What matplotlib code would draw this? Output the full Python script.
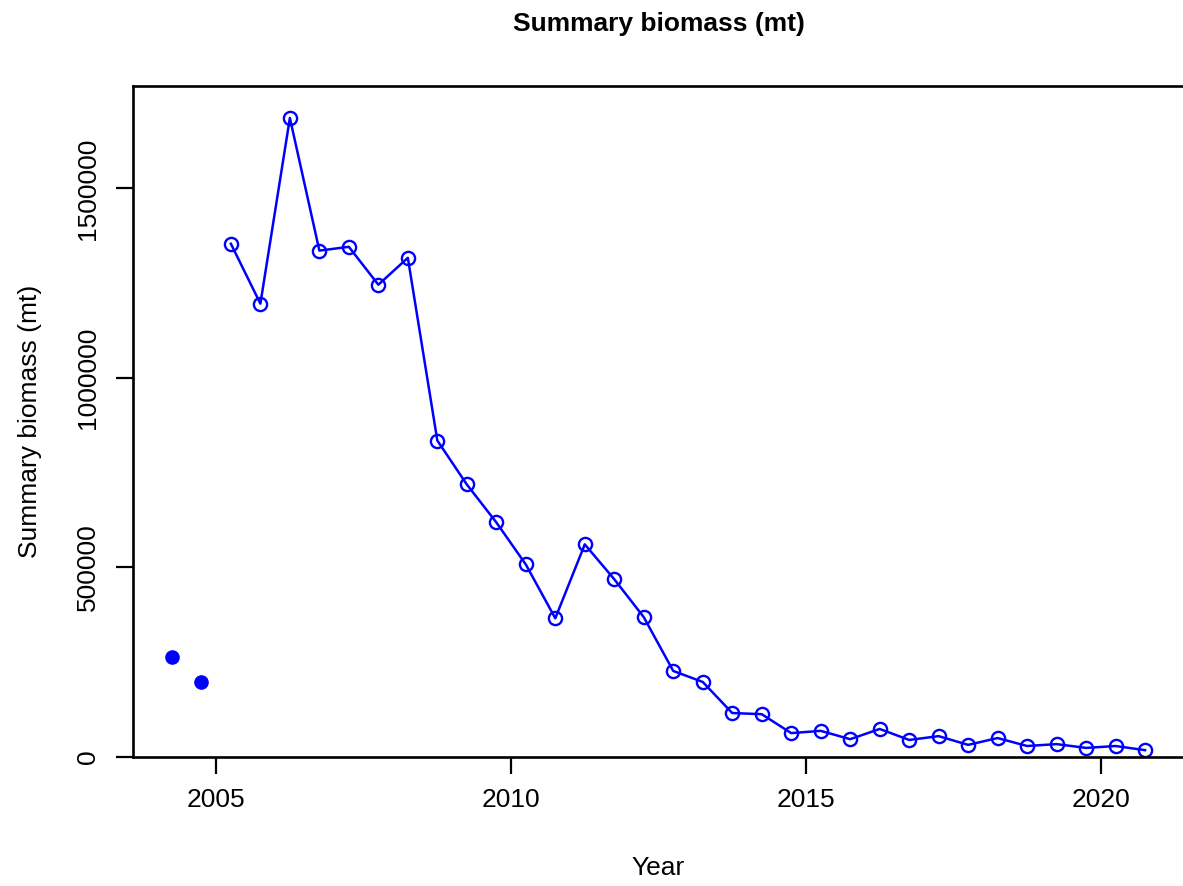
import matplotlib
matplotlib.use("Agg")
import matplotlib.pyplot as plt

plt.rcParams["font.family"] = ["Liberation Sans", "DejaVu Sans"]

# early years shown as filled points (not connected)
early_years = [2004.25, 2004.75]
early_biomass = [264000, 198000]

years = [2005.25, 2005.75, 2006.25, 2006.75, 2007.25, 2007.75, 2008.25, 2008.75,
         2009.25, 2009.75, 2010.25, 2010.75, 2011.25, 2011.75, 2012.25, 2012.75,
         2013.25, 2013.75, 2014.25, 2014.75, 2015.25, 2015.75, 2016.25, 2016.75,
         2017.25, 2017.75, 2018.25, 2018.75, 2019.25, 2019.75, 2020.25, 2020.75]
biomass = [1354000, 1196000, 1686000, 1336000, 1346000, 1246000, 1317000, 835000,
           719000, 619000, 508000, 366000, 561000, 469000, 369000, 227000,
           198000, 116000, 113000, 63000, 69000, 47000, 74000, 45000,
           55000, 32000, 50000, 29000, 34000, 24000, 29000, 18000]

xticks = [2005, 2010, 2015, 2020]
yticks = [0, 500000, 1000000, 1500000]

W, H = 1183, 886
fig = plt.figure(figsize=(W / 100, H / 100), dpi=100)
ax = fig.add_axes([133 / W, 1 - 757 / H, (1184 - 133) / W, (757 - 86) / H])

ax.plot(years, biomass, "-", color="blue", lw=1.8, marker="o", ms=9.5,
        mfc="none", mec="blue", mew=1.7)
ax.plot(early_years, early_biomass, "o", color="blue", ms=9.5)

span = max(early_years + years) - min(early_years + years)
ax.set_xlim(min(early_years) - 0.04 * span, max(years) + 0.04 * span)
ax.set_ylim(0, 1.05 * max(biomass))

ax.set_xticks(xticks)
ax.set_xticklabels([str(t) for t in xticks])
ax.set_yticks(yticks)
ax.set_yticklabels([str(t) for t in yticks], rotation=90, va="center")
ax.tick_params(direction="out", length=12, width=1.6, labelsize=19, pad=10)
ax.tick_params(axis="y", pad=12)
for s in ax.spines.values():
    s.set_linewidth(1.9)

ax.set_xlabel("Year", fontsize=19, labelpad=32)
ax.set_ylabel("Summary biomass (mt)", fontsize=19, labelpad=24)
ax.text(0.5, 1 - 24 / H, "Summary biomass (mt)", transform=fig.transFigure,
        ha="center", va="center", fontsize=19, fontweight="bold")
# keep title centred over the plot region, as R does
ax.texts[-1].set_x(ax.get_position().x0 + ax.get_position().width / 2)

plt.savefig("out.png", dpi=100)
plt.close()
